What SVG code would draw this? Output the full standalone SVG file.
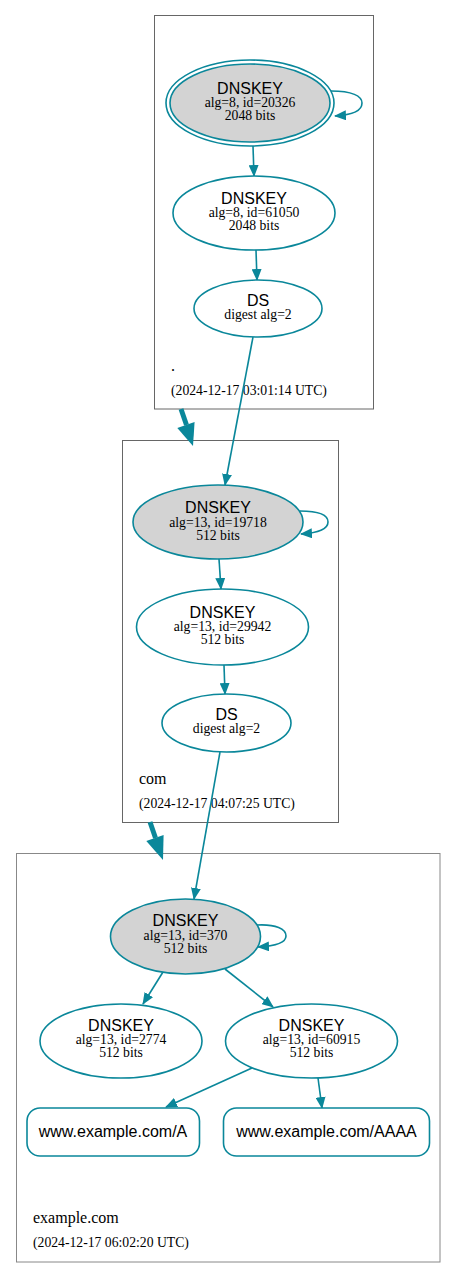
<svg xmlns="http://www.w3.org/2000/svg" width="456" height="1278" viewBox="0 0 456 1278">
<defs>
<style>
.cl{fill:none;stroke:#666;stroke-width:1}
.nd{fill:#fff;stroke:#0a879a;stroke-width:1.6}
.ks{fill:#d3d3d3;stroke:#0a879a;stroke-width:1.6}
.e{fill:none;stroke:#0a879a;stroke-width:1.6;marker-end:url(#ah)}
.big{fill:none;stroke:#0a879a;stroke-width:5}
.bh{fill:#0a879a;stroke:none}
.t1{font-family:"Liberation Sans",Arial,sans-serif;font-size:16px;text-anchor:middle;fill:#000}
.t2{font-family:"Liberation Serif","Times New Roman",serif;font-size:13.7px;text-anchor:middle;fill:#000}
.lz{font-family:"Liberation Serif","Times New Roman",serif;font-size:16px;fill:#000}
.ld{font-family:"Liberation Serif","Times New Roman",serif;font-size:13.7px;fill:#000}
</style>
<marker id="ah" viewBox="0 0 12 10" refX="11" refY="5" markerWidth="12" markerHeight="10" markerUnits="userSpaceOnUse" orient="auto">
<path d="M0,0 L12,5 L0,10 z" fill="#0a879a"/>
</marker>
</defs>
<rect width="456" height="1278" fill="#fff"/>

<g id="cluster-root">
<rect class="cl" x="154.5" y="15.5" width="219" height="393.5"/>
<text class="lz" x="171" y="371">.</text>
<text class="ld" x="171" y="395">(2024-12-17 03:01:14 UTC)</text>
</g>
<g id="cluster-com">
<rect class="cl" x="122.5" y="440.5" width="216" height="382"/>
<text class="lz" x="139" y="784">com</text>
<text class="ld" x="139" y="808">(2024-12-17 04:07:25 UTC)</text>
</g>
<g id="cluster-example">
<rect class="cl" x="16.5" y="853.5" width="423.5" height="408.5" style="stroke:#888"/>
<text class="lz" x="33" y="1223">example.com</text>
<text class="ld" x="33" y="1247">(2024-12-17 06:02:20 UTC)</text>
</g>

<g id="connectors">
<path class="e" d="M331,91 C352,91 362,96 362,103 C362,111 352,115 335,116"/>
<path class="e" d="M253,146 L254,176"/>
<path class="e" d="M256,250 L257,280"/>
<path class="e" d="M253,337 L225,485"/>
<path class="big" d="M181,409 L186.5,425"/>
<polygon class="bh" points="177.3,428 194.6,422 193,446"/>
<path class="e" d="M300,511 C318,511 328,515 328,522 C328,529 317,533 301,534"/>
<path class="e" d="M219,559 L221,589"/>
<path class="e" d="M224,665 L225,694"/>
<path class="e" d="M220,752 L194,899"/>
<path class="big" d="M150,822 L155.5,838"/>
<polygon class="bh" points="146.3,841 163.6,835 163,860"/>
<path class="e" d="M257,925 C276,924 286,929 286,936 C286,942 276,946 258,947"/>
<path class="e" d="M163,972 L143,1004"/>
<path class="e" d="M225,969 L273,1007"/>
<path class="e" d="M252,1068 L166,1107"/>
<path class="e" d="M318,1078 L322,1108"/>
</g>

<g id="dnskey-20326">
<ellipse class="nd" cx="250" cy="103" rx="84" ry="43"/>
<ellipse class="ks" cx="250" cy="103" rx="80" ry="39"/>
<text class="t1" x="250" y="94">DNSKEY</text>
<text class="t2" x="250" y="107">alg=8, id=20326</text>
<text class="t2" x="250" y="120">2048 bits</text>
</g>
<g id="dnskey-61050">
<ellipse class="nd" cx="254" cy="213" rx="81" ry="37"/>
<text class="t1" x="254" y="203.5">DNSKEY</text>
<text class="t2" x="254" y="217">alg=8, id=61050</text>
<text class="t2" x="254" y="230">2048 bits</text>
</g>
<g id="ds-root">
<ellipse class="nd" cx="258" cy="308.5" rx="64" ry="28.5"/>
<text class="t1" x="258" y="306">DS</text>
<text class="t2" x="258" y="319">digest alg=2</text>
</g>

<g id="dnskey-19718">
<ellipse class="ks" cx="218" cy="522" rx="85" ry="37"/>
<text class="t1" x="218" y="512.5">DNSKEY</text>
<text class="t2" x="218" y="526.5">alg=13, id=19718</text>
<text class="t2" x="218" y="539.5">512 bits</text>
</g>
<g id="dnskey-29942">
<ellipse class="nd" cx="222.5" cy="627" rx="86" ry="38"/>
<text class="t1" x="222.5" y="617.5">DNSKEY</text>
<text class="t2" x="222.5" y="631">alg=13, id=29942</text>
<text class="t2" x="222.5" y="644">512 bits</text>
</g>
<g id="ds-com">
<ellipse class="nd" cx="226.5" cy="723" rx="64.5" ry="29"/>
<text class="t1" x="226.5" y="720">DS</text>
<text class="t2" x="226.5" y="733">digest alg=2</text>
</g>

<g id="dnskey-370">
<ellipse class="ks" cx="185.5" cy="936.5" rx="75" ry="37.5"/>
<text class="t1" x="185.5" y="926">DNSKEY</text>
<text class="t2" x="185.5" y="940">alg=13, id=370</text>
<text class="t2" x="185.5" y="953">512 bits</text>
</g>
<g id="dnskey-2774">
<ellipse class="nd" cx="121" cy="1041" rx="81" ry="37"/>
<text class="t1" x="121" y="1030.5">DNSKEY</text>
<text class="t2" x="121" y="1044">alg=13, id=2774</text>
<text class="t2" x="121" y="1057">512 bits</text>
</g>
<g id="dnskey-60915">
<ellipse class="nd" cx="311.5" cy="1041" rx="86" ry="37"/>
<text class="t1" x="311.5" y="1030.5">DNSKEY</text>
<text class="t2" x="311.5" y="1044">alg=13, id=60915</text>
<text class="t2" x="311.5" y="1057">512 bits</text>
</g>
<g id="rrset-a">
<rect class="nd" x="27" y="1108" width="172.5" height="48" rx="13" ry="13"/>
<text class="t1" x="113" y="1137">www.example.com/A</text>
</g>
<g id="rrset-aaaa">
<rect class="nd" x="223.5" y="1108" width="206" height="48" rx="13" ry="13"/>
<text class="t1" x="326.5" y="1137">www.example.com/AAAA</text>
</g>
</svg>
